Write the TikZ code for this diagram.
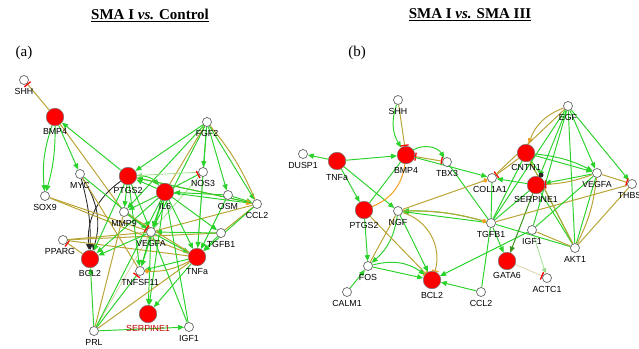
\documentclass[tikz,border=0pt]{standalone}
\usepackage{fontspec}
\setmainfont{Liberation Serif}
\newfontfamily\labfont{Liberation Sans}
\usetikzlibrary{arrows.meta,backgrounds}
\definecolor{grn}{RGB}{40,210,40}
\definecolor{lgrn}{RGB}{150,220,130}
\definecolor{olv}{RGB}{185,165,55}
\definecolor{lolv}{RGB}{215,205,160}
\definecolor{org}{RGB}{240,160,30}
\definecolor{dgrn}{RGB}{60,150,30}
\tikzset{
  rn/.style={circle,fill=red,draw=black!55,line width=0.5pt,minimum size=17.5pt,inner sep=0pt},
  wn/.style={circle,fill=white,draw=black!60,line width=0.7pt,minimum size=9pt,inner sep=0pt},
  lab/.style={font=\labfont\fontsize{8.8}{9}\selectfont,inner sep=0.5pt},
  ga/.style={draw=grn,line width=0.95pt,-{Triangle[length=6pt,width=5pt]}},
  gl/.style={draw=grn,line width=0.95pt},
  lg/.style={draw=lgrn,line width=0.7pt},
  lga/.style={draw=lgrn,line width=0.7pt,-{Triangle[length=5pt,width=4.5pt]}},
  ol/.style={draw=olv,line width=1pt},
  lol/.style={draw=lolv,line width=0.7pt},
  oa/.style={draw=org,line width=1pt},
  bk/.style={draw=black!85,line width=0.85pt,-{Triangle[length=6pt,width=5pt]}},
  rbar/.style={-{Bar[red,width=8pt,line width=1.3pt]}},
  obar/.style={-{Bar[org,width=7pt,line width=1.3pt]}},
  odot/.style={-{Circle[org,length=4.5pt]}},
  ttl/.style={font=\fontsize{15}{17}\selectfont\bfseries},
  pl/.style={font=\fontsize{15}{17}\selectfont},
}
\begin{document}
\begin{tikzpicture}[x=1pt,y=-1pt]
\useasboundingbox (0,0) rectangle (639,348);
\node[ttl] (t1) at (150,15) {\underline{SMA I \textit{vs.} Control}};
\node[ttl] (t2) at (470,15) {\underline{SMA I \textit{vs.} SMA III}};
\node[pl] (pa) at (24,53) {(a)};
\node[pl] (pb) at (357,53) {(b)};

% ---------------- panel (a) nodes
\node[wn,label={[lab,label distance=2.5pt]below:SHH}] (aSHH) at (24,80) {};
\node[rn,label={[lab,label distance=2pt]below:BMP4}] (aBMP4) at (55,117) {};
\node[wn,label={[lab,label distance=2.5pt]below:FGF2}] (aFGF2) at (207,122) {};
\node[wn,label={[lab,label distance=2.5pt]below:MYC}] (aMYC) at (80,174) {};
\node[rn,label={[lab,label distance=1.5pt]below:PTGS2}] (aPTGS2) at (128,176) {};
\node[rn,label={[lab,label distance=1.5pt]below:IL6}] (aIL6) at (165,192) {};
\node[wn,label={[lab,label distance=2.5pt]below:NOS3}] (aNOS3) at (203,172) {};
\node[wn,label={[lab,label distance=2.5pt]below:OSM}] (aOSM) at (228,195) {};
\node[wn,label={[lab,label distance=2.5pt]below:CCL2}] (aCCL2) at (257,204) {};
\node[wn,label={[lab,label distance=2.5pt]below:SOX9}] (aSOX9) at (45,196) {};
\node[wn,label={[lab,label distance=2.5pt]below:MMP9}] (aMMP9) at (124,212) {};
\node[wn,label={[lab,label distance=2.5pt]below:VEGFA}] (aVEGFA) at (151,232) {};
\node[wn,label={[lab,label distance=2.5pt]below:TGFB1}] (aTGFB1) at (221,233) {};
\node[wn,label={[lab,label distance=2.5pt,xshift=-3pt]below:PPARG}] (aPPARG) at (63,240) {};
\node[rn,label={[lab,label distance=1.5pt]below:BCL2}] (aBCL2) at (90,259) {};
\node[rn,label={[lab,label distance=1.5pt]below:TNFa}] (aTNFa) at (197,257) {};
\node[wn,label={[lab,label distance=2.5pt]below:TNFSF11}] (aTNFSF11) at (140,271) {};
\node[rn,label={[lab,text=red!75!black,label distance=2pt]below:SERPINE1}] (aSERPINE1) at (148,314) {};
\node[wn,label={[lab,label distance=2.5pt]below:PRL}] (aPRL) at (94,331) {};
\node[wn,label={[lab,label distance=2.5pt]below:IGF1}] (aIGF1) at (189,327) {};

% ---------------- panel (b) nodes
\node[wn,label={[lab,label distance=2.5pt]below:SHH}] (bSHH) at (398,100) {};
\node[wn,label={[lab,label distance=2.5pt]below:EGF}] (bEGF) at (568,106) {};
\node[wn,label={[lab,label distance=2.5pt]below:DUSP1}] (bDUSP1) at (303,154) {};
\node[rn,label={[lab,label distance=4pt]below:TNFa}] (bTNFa) at (337,161) {};
\node[rn,label={[lab,label distance=2.5pt]below:BMP4}] (bBMP4) at (406,155) {};
\node[wn,label={[lab,label distance=2.5pt]below:TBX3}] (bTBX3) at (447,162) {};
\node[wn,label={[lab,label distance=2.5pt,xshift=-2pt]below:COL1A1}] (bCOL1A1) at (492,178) {};
\node[rn,label={[lab,label distance=2pt]below:CNTN1}] (bCNTN1) at (526,153) {};
\node[rn,label={[lab,label distance=1.5pt]below:SERPINE1}] (bSERPINE1) at (536,185) {};
\node[wn,label={[lab,label distance=2.5pt]below:VEGFA}] (bVEGFA) at (597,173) {};
\node[wn,label={[lab,label distance=2.5pt]below:THBS1}] (bTHBS1) at (632,184) {};
\node[rn,label={[lab,label distance=3pt]below:PTGS2}] (bPTGS2) at (364,210) {};
\node[wn,label={[lab,label distance=2.5pt]below:NGF}] (bNGF) at (398,211) {};
\node[wn,label={[lab,label distance=2.5pt]below:TGFB1}] (bTGFB1) at (491,223) {};
\node[wn,label={[lab,label distance=2.5pt]below:IGF1}] (bIGF1) at (532,230) {};
\node[wn,label={[lab,label distance=2.5pt]below:AKT1}] (bAKT1) at (575,248) {};
\node[wn,label={[lab,label distance=2.5pt]below:FOS}] (bFOS) at (368,266) {};
\node[rn,label={[lab,label distance=3pt]below:BCL2}] (bBCL2) at (432,280) {};
\node[rn,label={[lab,label distance=2pt]below:GATA6}] (bGATA6) at (507,261) {};
\node[wn,label={[lab,label distance=2.5pt]below:ACTC1}] (bACTC1) at (547,278) {};
\node[wn,label={[lab,label distance=2.5pt]below:CALM1}] (bCALM1) at (347,292) {};
\node[wn,label={[lab,label distance=2.5pt]below:CCL2}] (bCCL2) at (481,292) {};
\node[circle,fill=black!85,minimum size=5pt,inner sep=0pt] (bdot) at (541,175) {};

\begin{scope}[on background layer]
% ---------- panel (a) edges
\draw[lol] (aPRL) -- (aVEGFA);
\draw[lg] (aNOS3) -- (aVEGFA);
\draw[lg] (aNOS3) -- (aTNFa);
\draw[ol,{Bar[red,width=8pt,line width=1.3pt]}-] (aSHH) -- (aBMP4);
\draw[ga] (aBMP4) to[bend right=12] (aSOX9);
\draw[ga] (aBMP4) to[bend left=8] (aSOX9);
\draw[ga] (aBMP4) -- (aMYC);
\draw[ga] (aPTGS2) -- (aBMP4);
\draw[ol] (aBMP4) -- (aMMP9);
\draw[ga] (aFGF2) -- (aPTGS2);
\draw[ga] (aFGF2) -- (aNOS3);
\draw[ga] (aFGF2) -- (aCCL2);
\draw[ol] (aFGF2) to[bend left=8] (aCCL2);
\draw[ol] (aFGF2) -- (aIL6);
\draw[ga] (aFGF2) -- (aOSM);
\draw[ga] (aFGF2) -- (aVEGFA);
\draw[ga] (aFGF2) -- (aMMP9);
\draw[ga] (aFGF2) -- (aTNFa);
\draw[bk] (aMYC) to[bend left=8] (aBCL2);
\draw[bk] (aMYC) to[bend left=25] (aBCL2);
\draw[bk] (aPTGS2) to[bend right=30] (aBCL2);
\draw[ga] (aMYC) -- (aVEGFA);
\draw[ol] (aMYC) -- (aTNFSF11);
\draw[ol,rbar] (aBCL2) -- (aPPARG);
\draw[ol] (aPPARG) -- (aTNFa);
\draw[ol] (aPPARG) -- (aVEGFA);
\draw[ol] (aPPARG) -- (aTGFB1);
\draw[ol] (aSOX9) -- (aVEGFA);
\draw[ol] (aSOX9) -- (aTNFa);
\draw[ga] (aIL6) -- (aPTGS2);
\draw[ga] (aPTGS2) to[bend left=25] (aIL6);
\draw[lga] (aNOS3) -- (aPTGS2);
\draw[gl,rbar] (aIL6) -- (aNOS3);
\draw[ga] (aOSM) -- (aIL6);
\draw[ga] (aOSM) -- (aCCL2);
\draw[gl,-{Triangle[org,length=6pt,width=5pt]}] (aIL6) -- (aCCL2);
\draw[ol,-{Triangle[org,length=6pt,width=5pt]}] (aPTGS2) -- (aCCL2);
\draw[ga] (aCCL2) -- (aPTGS2);
\draw[ga] (aTGFB1) -- (aTNFa);
\draw[ga] (aTGFB1) -- (aVEGFA);
\draw[ol] (aTGFB1) -- (aCCL2);
\draw[ga] (aCCL2) -- (aTNFa);
\draw[ol] (aCCL2) -- (aVEGFA);
\draw[ga] (aVEGFA) -- (aBCL2);
\draw[ga] (aVEGFA) -- (aTNFSF11);
\draw[ga] (aVEGFA) -- (aSERPINE1);
\draw[ga] (aVEGFA) -- (aTNFa);
\draw[ga] (aPTGS2) -- (aBCL2);
\draw[ga] (aPTGS2) -- (aTNFSF11);
\draw[ga] (aPTGS2) -- (aVEGFA);
\draw[ga] (aPTGS2) -- (aMMP9);
\draw[ga] (aIL6) -- (aVEGFA);
\draw[ga] (aIL6) -- (aTNFa);
\draw[ga] (aIL6) -- (aSERPINE1);
\draw[ga] (aIL6) -- (aBCL2);
\draw[ga] (aIL6) -- (aMMP9);
\draw[ga] (aIL6) -- (aTNFSF11);
\draw[ga] (aTNFa) -- (aSERPINE1);
\draw[ga] (aTNFa) -- (aTNFSF11);
\draw[ol,odot] (aTNFa) to[bend left=15] (aTNFSF11);
\draw[ol] (aMMP9) -- (aTNFa);
\draw[gl,rbar] (aPRL) -- (aTNFSF11);
\draw[ga] (aPRL) -- (aBCL2);
\draw[ga] (aPRL) -- (aIGF1);
\draw[gl] (aPRL) -- (aIL6);
\draw[ol] (aPRL) -- (aTNFa);
\draw[ol] (aPRL) -- (aMMP9);
\draw[gl] (aIGF1) -- (aVEGFA);
\draw[gl] (aIGF1) -- (aIL6);
\draw[ga,rbar] (aMMP9) -- (aVEGFA);
\draw[ga] (aOSM) -- (aTNFa);
\draw[ga] (aIL6) -- (aTGFB1);

% ---------- panel (b) edges
\draw[ga] (bSHH) to[bend right=25] (bBMP4);
\draw[ol,rbar] (bSHH) -- (bBMP4);
\draw[ga] (bTNFa) -- (bDUSP1);
\draw[ga] (bTNFa) -- (bBMP4);
\draw[ga] (bTNFa) -- (bPTGS2);
\draw[ga] (bTNFa) -- (bNGF);
\draw[ga] (bBMP4) to[bend left=45] (bTBX3);
\draw[ol,{Bar[red,width=8pt,line width=1.3pt]}-{Bar[red,width=8pt,line width=1.3pt]}] (bBMP4) -- (bTBX3);
\draw[ga] (bBMP4) -- (bCOL1A1);
\draw[gl] (bPTGS2) -- (bBMP4);
\draw[oa] (bPTGS2) to[bend right=30] (bBMP4);
\draw[gl] (bTBX3) -- (bTGFB1);
\draw[ol,odot] (bNGF) -- (bCOL1A1);
\draw[ol,rbar] (bCNTN1) -- (bCOL1A1);
\draw[ga] (bSERPINE1) -- (bCOL1A1);
\draw[ol,-{Triangle[org,length=6pt,width=5pt]}] (bEGF) to[bend right=25] (bCNTN1);
\draw[ga] (bEGF) -- (bVEGFA);
\draw[ga] (bEGF) -- (bTHBS1);
\draw[ga] (bEGF) -- (bSERPINE1);
\draw[gl] (bEGF) -- (bTGFB1);
\draw[gl] (bEGF) -- (bIGF1);
\draw[gl] (bEGF) -- (bAKT1);
\draw[ol] (bEGF) -- (bCOL1A1);
\draw[ga] (bCNTN1) -- (bVEGFA);
\draw[ga] (bCNTN1) to[bend left=10] (bVEGFA);
\draw[ga] (bVEGFA) -- (bSERPINE1);
\draw[ol,rbar] (bVEGFA) to[bend left=8] (bSERPINE1);
\draw[ol,rbar] (bVEGFA) -- (bTHBS1);
\draw[ga] (bTGFB1) to[bend right=8] (bNGF);
\draw[ga] (bTGFB1) to[bend left=0] (bNGF);
\draw[ol,odot] (bNGF) to[bend left=8] (bTGFB1);
\draw[ga] (bTGFB1) -- (bGATA6);
\draw[ga] (bIGF1) -- (bBCL2);
\draw[lga] (bIGF1) -- (bACTC1);
\draw[lol,rbar] (bGATA6) -- (bACTC1);
\draw[gl] (bAKT1) -- (bSERPINE1);
\draw[gl] (bAKT1) -- (bVEGFA);
\draw[gl] (bAKT1) -- (bCNTN1);
\draw[ol] (bAKT1) -- (bTHBS1);
\draw[gl] (bAKT1) -- (bTGFB1);
\draw[ol] (bAKT1) -- (bIGF1);
\draw[ol] (bAKT1) to[bend right=10] (bVEGFA);
\draw[ga] (bPTGS2) -- (bFOS);
\draw[ga] (bNGF) to[bend left=20] (bFOS);
\draw[ol,obar] (bNGF) to[bend left=45] (bBCL2);
\draw[ol,obar] (bPTGS2) -- (bBCL2);
\draw[ga] (bNGF) -- (bBCL2);
\draw[ol] (bNGF) -- (bFOS);
\draw[ga] (bFOS) to[bend left=25] (bBCL2);
\draw[ga] (bFOS) -- (bBCL2);
\draw[ga] (bCALM1) -- (bFOS);
\draw[ga] (bCCL2) -- (bBCL2);
\draw[gl] (bCCL2) -- (bTGFB1);
\draw[draw=dgrn,line width=1pt,-{Triangle[length=6pt,width=5pt]}] (bSERPINE1) -- (bGATA6);
\draw[ol] (bTHBS1) -- (bTGFB1);
\draw[gl] (bCOL1A1) -- (bTGFB1);
\draw[gl] (bSERPINE1) -- (bTGFB1);
\draw[gl] (bCNTN1) -- (bTGFB1);
\draw[ol] (bCNTN1) -- (bAKT1);
\draw[gl] (bCNTN1) -- (bdot);
\draw[gl] (bVEGFA) -- (bIGF1);
\end{scope}
\end{tikzpicture}
\end{document}
